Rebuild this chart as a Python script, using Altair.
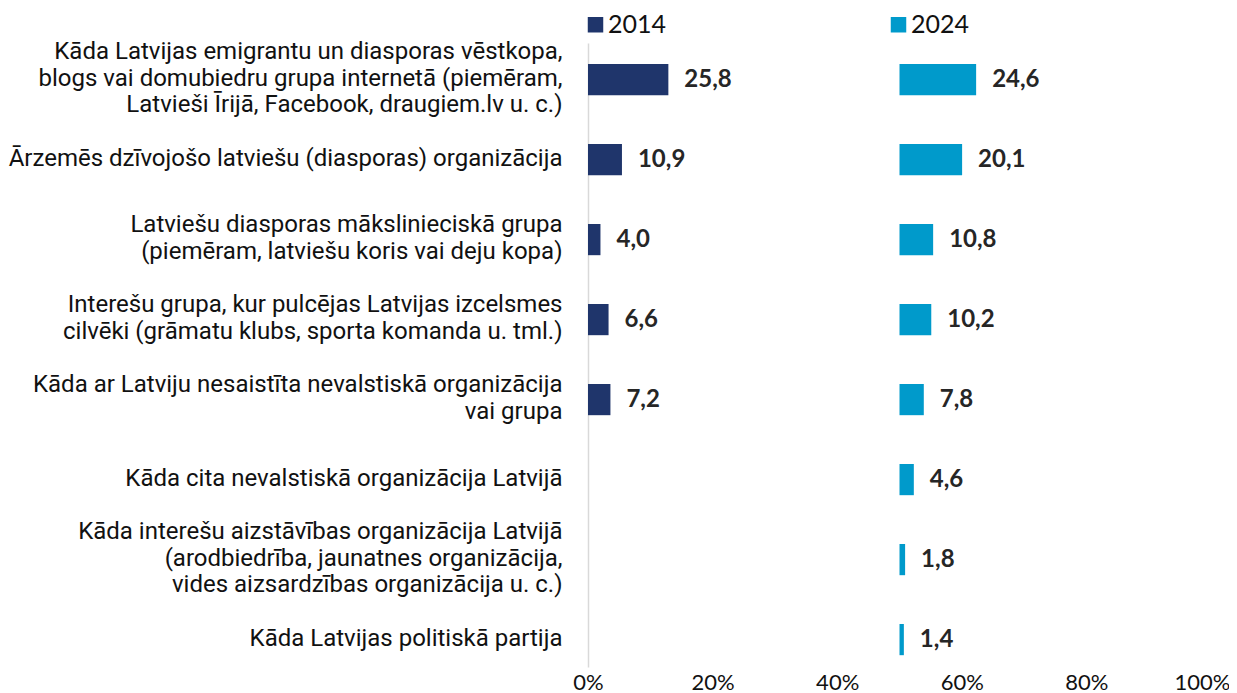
import altair as alt
import pandas as pd

categories = [
    "Kāda Latvijas emigrantu un diasporas vēstkopa,|blogs vai domubiedru grupa internetā (piemēram,|Latvieši Īrijā, Facebook, draugiem.lv u. c.)",
    "Ārzemēs dzīvojošo latviešu (diasporas) organizācija",
    "Latviešu diasporas mākslinieciskā grupa|(piemēram, latviešu koris vai deju kopa)",
    "Interešu grupa, kur pulcējas Latvijas izcelsmes|cilvēki (grāmatu klubs, sporta komanda u. tml.)",
    "Kāda ar Latviju nesaistīta nevalstiskā organizācija|vai grupa",
    "Kāda cita nevalstiskā organizācija Latvijā",
    "Kāda interešu aizstāvības organizācija Latvijā|(arodbiedrība, jaunatnes organizācija,|vides aizsardzības organizācija u. c.)",
    "Kāda Latvijas politiskā partija",
]
values_2014 = [25.8, 10.9, 4.0, 6.6, 7.2, None, None, None]
values_2024 = [24.6, 20.1, 10.8, 10.2, 7.8, 4.6, 1.8, 1.4]
years = ["2014", "2024"]
x_ticks = [0, 20, 40, 60, 80, 100]

rows = []
for c, v in zip(categories, values_2014):
    if v is not None:
        rows.append({"category": c, "year": "2014", "value": v})
for c, v in zip(categories, values_2024):
    if v is not None:
        rows.append({"category": c, "year": "2024", "value": v})
df = pd.DataFrame(rows)

colors = ["#1f356b", "#009acb"]

base = alt.Chart(df).transform_calculate(
    start="datum.year == '2014' ? 0 : 50",
).transform_calculate(
    end="datum.start + datum.value / 2",
    label="replace(format(datum.value, '.1f'), '.', ',')",
)

y_enc = alt.Y(
    "category:N",
    sort=categories,
    scale=alt.Scale(paddingInner=0.61, paddingOuter=0.205, align=0.64),
    axis=alt.Axis(
        title=None,
        labelExpr="split(datum.label, '|')",
        labelFont="Roboto",
        labelFontSize=24,
        labelLineHeight=26.5,
        labelColor="#111111",
        labelAlign="right",
        labelBaseline="middle",
        labelOffset={
            "condition": [
                {"test": "length(split(datum.value, '|')) == 3", "value": -27.5},
                {"test": "length(split(datum.value, '|')) == 2", "value": -14.5},
            ],
            "value": -1,
        },
        labelPadding=26,
        labelLimit=700,
        ticks=False,
        domain=True,
        domainColor="#d9d9d9",
        domainWidth=1.5,
    ),
)

bars = base.mark_bar().encode(
    x=alt.X(
        "start:Q",
        scale=alt.Scale(domain=[0, 100], nice=False),
        axis=alt.Axis(
            title=None,
            values=x_ticks,
            labelExpr="datum.value + '%'",
            labelFont="Lato",
            labelFontSize=22,
            labelColor="#111111",
            labelPadding=5,
            labelFlush=False,
            labelOffset={
                "condition": {"test": "datum.value == 100", "value": -9},
                "value": 0,
            },
            ticks=False,
            domain=False,
            grid=False,
        ),
    ),
    x2="end:Q",
    y=y_enc,
    color=alt.Color(
        "year:N",
        scale=alt.Scale(domain=years, range=colors),
        legend=alt.Legend(
            title=None,
            orient="none",
            legendX=-5,
            legendY=-31,
            padding=0,
            direction="horizontal",
            columns=2,
            columnPadding=219,
            symbolType="square",
            symbolSize=240,
            symbolStrokeWidth=0,
            labelFont="Lato",
            labelFontSize=25,
            labelColor="#111111",
            labelOffset=0,
        ),
    ),
)

texts = base.mark_text(
    align="left",
    baseline="middle",
    dx=16,
    font="Lato",
    fontWeight="bold",
    fontSize=24,
    color="#262626",
).encode(
    x="end:Q",
    y=alt.Y("category:N", sort=categories),
    text="label:N",
)

chart = (
    alt.layer(bars, texts)
    .properties(
        width=623,
        height=624,
        autosize=alt.AutoSizeParams(type="none"),
        padding={"left": 580, "top": 35, "right": 18, "bottom": 26},
    )
    .configure_view(stroke=None)
)

chart.save("out.html", embed_options={"renderer": "svg", "actions": False})
